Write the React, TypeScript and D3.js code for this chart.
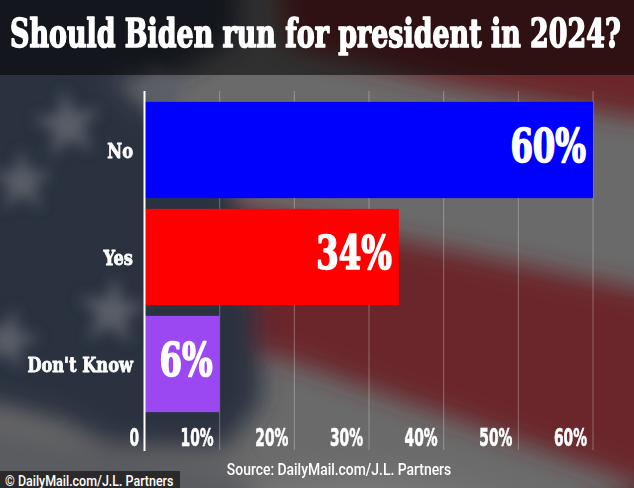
import React, { useLayoutEffect, useRef, useState } from "react";
import * as d3 from "d3";

const categories = ["No", "Yes", "Don't Know"];
const values = [60, 34, 6];
const barColors = ["#0000fd", "#ff0000", "#9b48f3"];
const tickValues = [0, 10, 20, 30, 40, 50, 60];
const titleText = "Should Biden run for president in 2024?";
const sourceText = "Source: DailyMail.com/J.L. Partners";
const creditText = "© DailyMail.com/J.L. Partners";
// The original graphic widens very short bars so that the label fits inside.
const MIN_DRAWN = 10;

const SLAB = "'DejaVu Serif Condensed', 'DejaVu Serif', serif";
const COND = "'DejaVu Sans Condensed', 'DejaVu Sans', sans-serif";

const starPath = d3.symbol().type(d3.symbolStar).size(1500)() as string;
const starSpots: [number, number, number][] = [
  [160, 92, 0.9],
  [68, 125, 1.0],
  [22, 182, 0.9],
  [112, 312, 1.0],
  [8, 340, 0.9],
];

function FitTitle({ x, y, width, children, ...rest }: any) {
  const ref = useRef<SVGTextElement>(null);
  const [k, setK] = useState(1);
  useLayoutEffect(() => {
    if (ref.current) {
      const w = ref.current.getComputedTextLength();
      if (w > 0) setK(width / w);
    }
  }, [width, children]);
  return (
    <text ref={ref} transform={`translate(${x},${y}) scale(${k},1)`} {...rest}>
      {children}
    </text>
  );
}

export default function App() {
  const W = 634;
  const H = 488;
  const x = d3.scaleLinear().domain([0, 60]).range([145, 593]);
  const y = d3
    .scaleBand<string>()
    .domain(categories)
    .range([96.5, 417.5])
    .paddingInner(0.1)
    .paddingOuter(0.05);
  const line = d3.line();

  return (
    <svg
      width={W}
      height={H}
      style={{ position: "fixed", left: 0, top: 0, display: "block" }}
    >
      <defs>
        <filter id="bigblur" x="-30%" y="-30%" width="160%" height="160%">
          <feGaussianBlur stdDeviation="12" />
        </filter>
        <filter id="starblur" x="-50%" y="-50%" width="200%" height="200%">
          <feGaussianBlur stdDeviation="7" />
        </filter>
        <clipPath id="clipAll">
          <rect x={0} y={0} width={W} height={H} />
        </clipPath>
        <radialGradient id="bottomGlow" cx="0.5" cy="1" r="0.6">
          <stop offset="0" stopColor="#8a8a8a" />
          <stop offset="1" stopColor="#6c6c6c" stopOpacity="0" />
        </radialGradient>
      </defs>

      <g clipPath="url(#clipAll)">
        {/* blurred flag background */}
        <rect x={0} y={0} width={W} height={H} fill="#6a6a6a" />
        <rect x={150} y={380} width={420} height={140} fill="url(#bottomGlow)" />
        <g filter="url(#bigblur)">
          {/* top red stripe */}
          <path
            d={line([[275, -60], [700, -60], [700, 120], [634, 118], [445, 84], [285, 45]]) + "Z"}
            fill="#6a2529"
          />
          {/* middle red stripe */}
          <path
            d={line([[235, 205], [634, 288], [700, 300], [700, 500], [634, 482], [380, 392], [245, 345]]) + "Z"}
            fill="#6b272c"
          />
          {/* canton */}
          <path
            d={line([[-40, -60], [240, -60], [238, 40], [180, 72], [110, 80], [140, 100], [225, 165], [255, 260], [262, 400], [225, 448], [110, 445], [60, 420], [-40, 395]]) + "Z"}
            fill="#2b3241"
          />
          {/* bottom-left light patch */}
          <path d={line([[-40, 420], [60, 440], [240, 470], [260, 520], [-40, 520]]) + "Z"} fill="#5a5c60" />
          {/* bottom-right dark red corner */}
          <path d={line([[560, 520], [700, 470], [700, 520]]) + "Z"} fill="#4a1c20" />
        </g>
        <g filter="url(#starblur)" fill="#5a5f68">
          {starSpots.map(([sx, sy, k], i) => (
            <path
              key={i}
              d={starPath}
              transform={`translate(${sx},${sy}) rotate(${-15 + i * 7}) scale(${k})`}
            />
          ))}
        </g>

        {/* dark title band */}
        <rect x={0} y={0} width={W} height={75} fill="#000" opacity={0.55} />

        {/* bottom credit box */}
        <rect x={0} y={471} width={180} height={17} fill="#1e1e1e" opacity={0.8} />
      </g>

      {/* title */}
      <FitTitle
        x={10}
        y={47}
        width={611}
        fill="#fff"
        stroke="#fff"
        strokeWidth={1.6}
        strokeLinejoin="round"
        fontFamily={SLAB}
        fontWeight="bold"
        fontSize={40}
      >
        {titleText}
      </FitTitle>

      {/* grid lines */}
      {tickValues.slice(1).map((t) => (
        <line
          key={t}
          x1={x(t)}
          x2={x(t)}
          y1={91}
          y2={450}
          stroke="#ffffff"
          strokeOpacity={0.3}
          strokeWidth={1}
        />
      ))}

      {/* bars */}
      {categories.map((c, i) => (
        <rect
          key={c}
          x={x(0)}
          y={y(c)}
          width={x(Math.max(values[i], MIN_DRAWN)) - x(0)}
          height={y.bandwidth()}
          fill={barColors[i]}
        />
      ))}

      {/* axis line */}
      <line x1={x(0) - 0.5} x2={x(0) - 0.5} y1={91} y2={451} stroke="#fff" strokeWidth={2} />

      {/* category labels */}
      {categories.map((c) => (
        <text
          key={c}
          transform={`translate(133,${(y(c) as number) + y.bandwidth() / 2 + 7.5}) scale(0.86,1)`}
          textAnchor="end"
          fill="#fff"
          stroke="#fff"
          strokeWidth={0.8}
          strokeLinejoin="round"
          fontFamily={SLAB}
          fontWeight="bold"
          fontSize={21}
        >
          {c}
        </text>
      ))}

      {/* value labels */}
      {categories.map((c, i) => (
        <text
          key={c}
          transform={`translate(${x(Math.max(values[i], MIN_DRAWN)) - 7},${(y(c) as number) + y.bandwidth() / 2 + 11.5}) scale(0.78,1)`}
          textAnchor="end"
          fill="#fff"
          stroke="#fff"
          strokeWidth={1.6}
          strokeLinejoin="round"
          fontFamily={SLAB}
          fontWeight="bold"
          fontSize={46}
        >
          {values[i]}%
        </text>
      ))}

      {/* tick labels */}
      {tickValues.map((t) => (
        <text
          key={t}
          transform={`translate(${x(t) - 6},446) scale(0.64,1)`}
          textAnchor="end"
          fill="#fff"
          stroke="#fff"
          strokeWidth={0.6}
          strokeLinejoin="round"
          fontFamily={COND}
          fontWeight="bold"
          fontSize={24}
        >
          {t === 0 ? "0" : `${t}%`}
        </text>
      ))}

      {/* source */}
      <text
        transform={`translate(339,475) scale(0.87,1)`}
        textAnchor="middle"
        fill="#fff"
        fontFamily="Roboto, sans-serif"
        fontWeight={500}
        fontSize={16}
      >
        {sourceText}
      </text>

      {/* credit */}
      <text
        transform={`translate(5,486) scale(0.89,1)`}
        fill="#fff"
        fontFamily="Roboto, sans-serif"
        fontWeight={500}
        fontSize={14}
      >
        {creditText}
      </text>
    </svg>
  );
}
